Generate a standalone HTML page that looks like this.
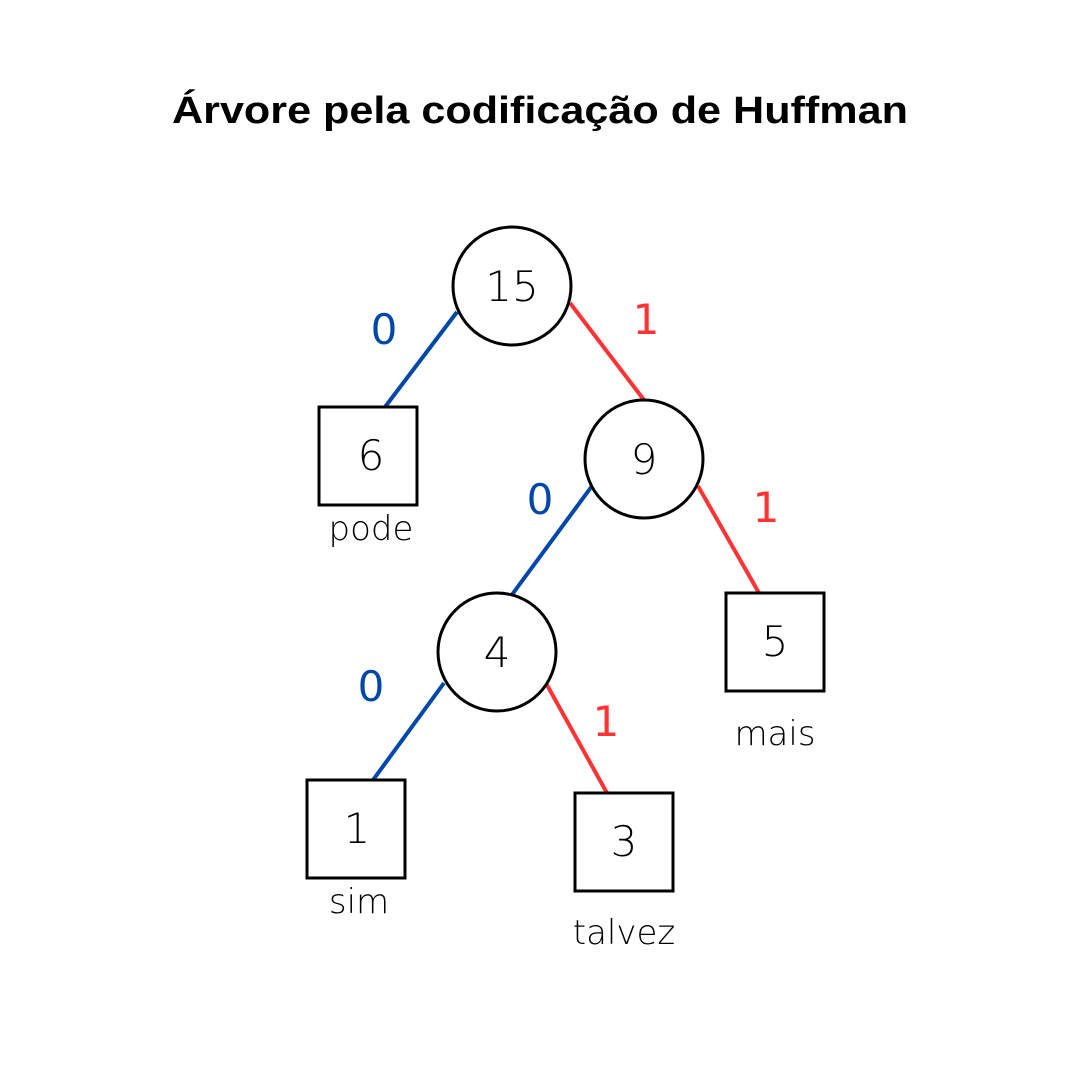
<!DOCTYPE html>
<html><head><meta charset="utf-8"><style>
html,body{margin:0;padding:0;background:#fff;}
svg{display:block}
</style></head><body>
<svg width="1080" height="1080" viewBox="0 0 1080 1080" xmlns="http://www.w3.org/2000/svg">
<rect width="1080" height="1080" fill="#fff"/>
<text x="540" y="123" text-anchor="middle" font-family="Liberation Sans, sans-serif" font-weight="bold" font-size="38" textLength="736" lengthAdjust="spacingAndGlyphs">Árvore pela codificação de Huffman</text>
<g stroke-width="4" fill="none">
<line x1="457" y1="312" x2="385" y2="407" stroke="#0047AB"/>
<line x1="570" y1="303" x2="644" y2="400" stroke="#ff3333"/>
<line x1="592" y1="486" x2="511" y2="596" stroke="#0047AB"/>
<line x1="698" y1="486" x2="759" y2="593" stroke="#ff3333"/>
<line x1="444" y1="683" x2="373" y2="780" stroke="#0047AB"/>
<line x1="547" y1="685" x2="607" y2="793" stroke="#ff3333"/>
</g>
<g stroke="#000" stroke-width="3" fill="#fff">
<circle cx="512" cy="286" r="59"/>
<circle cx="644" cy="459" r="59"/>
<circle cx="497" cy="652" r="59"/>
<rect x="319" y="407" width="98" height="98"/>
<rect x="726" y="593" width="98" height="98"/>
<rect x="307" y="780" width="98" height="98"/>
<rect x="575" y="793" width="98" height="98"/>
</g>
<g font-family="DejaVu Sans, sans-serif" font-size="42" text-anchor="middle" fill="#000" font-weight="200">
<text x="512" y="301">15</text>
<text x="644" y="474">9</text>
<text x="497" y="667">4</text>
<text x="371" y="470">6</text>
<text x="775" y="656">5</text>
<text x="357" y="843">1</text>
<text x="624" y="856">3</text>
</g>
<g font-family="DejaVu Sans, sans-serif" font-size="42" text-anchor="middle">
<text x="384" y="344" fill="#0047AB">0</text>
<text x="646" y="334" fill="#ff3333">1</text>
<text x="540" y="514" fill="#0047AB">0</text>
<text x="766" y="522" fill="#ff3333">1</text>
<text x="371" y="701" fill="#0047AB">0</text>
<text x="606" y="736" fill="#ff3333">1</text>
</g>
<g font-family="DejaVu Sans, sans-serif" font-size="34" text-anchor="middle" fill="#000" font-weight="200">
<text x="371" y="540">pode</text>
<text x="775" y="745">mais</text>
<text x="359" y="913">sim</text>
<text x="624" y="944">talvez</text>
</g>
</svg>
</body></html>
